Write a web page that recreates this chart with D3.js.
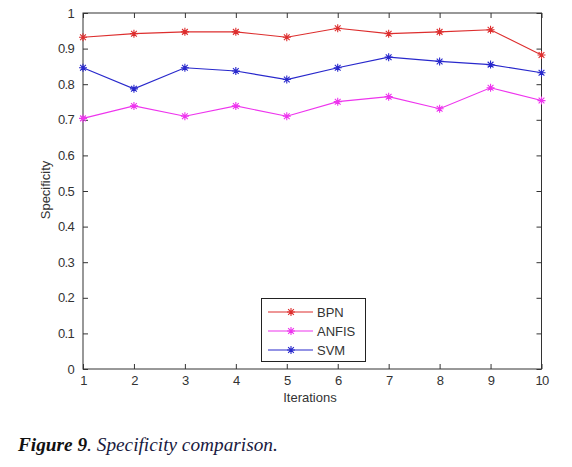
<!DOCTYPE html>
<html><head><meta charset="utf-8">
<script src="https://cdn.jsdelivr.net/npm/d3@7"></script>
<style>
html,body{margin:0;padding:0;background:#fff;}
svg{display:block;}
.tk{font-family:'Liberation Sans',Arial,Helvetica,sans-serif;font-size:13px;fill:#333;}
.num{letter-spacing:-0.7px;}
</style></head>
<body>
<svg id="c" width="572" height="467"></svg>
<script>
const iterations = [1,2,3,4,5,6,7,8,9,10];
const bpn   = [0.932,0.942,0.947,0.947,0.932,0.957,0.942,0.947,0.953,0.882];
const anfis = [0.704,0.739,0.710,0.739,0.710,0.751,0.765,0.731,0.790,0.754];
const svm   = [0.846,0.787,0.846,0.837,0.813,0.846,0.876,0.864,0.855,0.832];
const seriesNames = ["BPN","ANFIS","SVM"];
const seriesColors = ["#dd2e2e","#ee34ee","#2828cc"];
const yTicks = [0,0.1,0.2,0.3,0.4,0.5,0.6,0.7,0.8,0.9,1];
const xTicks = [1,2,3,4,5,6,7,8,9,10];

const svg = d3.select("#c");
const L=83, R=541.5, T=13, B=369;
const x = d3.scaleLinear().domain([1,10]).range([L,R]);
const y = d3.scaleLinear().domain([0,1]).range([B,T]);

svg.append("rect").attr("x",L).attr("y",T).attr("width",R-L).attr("height",B-T)
  .attr("fill","none").attr("stroke","#333").attr("stroke-width",1);

const tickLen=5;
const gx = svg.append("g").attr("transform",`translate(0,${B})`)
  .call(d3.axisBottom(x).tickValues(xTicks).tickFormat(d3.format("d")).tickSizeInner(-tickLen).tickSizeOuter(0).tickPadding(7));
gx.select(".domain").remove();
gx.selectAll("line").attr("stroke","#333");
gx.selectAll("text").attr("class","tk num").attr("fill","#333").attr("font-size",null).attr("font-family",null);
const gxt = svg.append("g").attr("transform",`translate(0,${T})`)
  .call(d3.axisTop(x).tickValues(xTicks).tickFormat("").tickSizeInner(-tickLen).tickSizeOuter(0));
gxt.select(".domain").remove(); gxt.selectAll("line").attr("stroke","#333");
const gy = svg.append("g").attr("transform",`translate(${L},0)`)
  .call(d3.axisLeft(y).tickValues(yTicks).tickFormat(d=> d===0||d===1? String(d) : d3.format(".1f")(d)).tickSizeInner(-tickLen).tickSizeOuter(0).tickPadding(9));
gy.select(".domain").remove();
gy.selectAll("line").attr("stroke","#333");
gy.selectAll("text").attr("class","tk num").attr("fill","#333").attr("font-size",null).attr("font-family",null);
const gyr = svg.append("g").attr("transform",`translate(${R},0)`)
  .call(d3.axisRight(y).tickValues(yTicks).tickFormat("").tickSizeInner(-tickLen).tickSizeOuter(0));
gyr.select(".domain").remove(); gyr.selectAll("line").attr("stroke","#333");

svg.append("text").attr("class","tk").attr("x",310).attr("y",401.5).attr("text-anchor","middle").text("Iterations");
svg.append("text").attr("class","tk").attr("transform","translate(50,190) rotate(-90)").attr("text-anchor","middle").text("Specificity");

function star(s){
  const a=s*0.72;
  return `M${-s},0L${s},0M0,${-s}L0,${s}M${-a},${-a}L${a},${a}M${-a},${a}L${a},${-a}`;
}
const data=[bpn,anfis,svm];
const line = d3.line().x((d,i)=>x(iterations[i])).y(d=>y(d));
data.forEach((vals,k)=>{
  svg.append("path").attr("d",line(vals)).attr("fill","none").attr("stroke",seriesColors[k]).attr("stroke-width",1.1);
  svg.selectAll(null).data(vals).enter().append("path")
    .attr("transform",(d,i)=>`translate(${x(iterations[i])},${y(d)})`)
    .attr("d",star(4)).attr("stroke",seriesColors[k]).attr("stroke-width",1.1).attr("fill","none");
});

const lg = svg.append("g");
lg.append("rect").attr("x",261.5).attr("y",298.5).attr("width",104).attr("height",63)
  .attr("fill","#fff").attr("stroke","#222").attr("stroke-width",1);
const ly=[312,331,350];
seriesNames.forEach((n,k)=>{
  lg.append("line").attr("x1",268).attr("x2",313).attr("y1",ly[k]).attr("y2",ly[k]).attr("stroke",seriesColors[k]).attr("stroke-width",1.1);
  lg.append("path").attr("transform",`translate(291,${ly[k]})`).attr("d",star(4)).attr("stroke",seriesColors[k]).attr("stroke-width",1.1);
  lg.append("text").attr("class","tk").attr("x",317).attr("y",ly[k]+5).text(n);
});

const cap = svg.append("text").attr("x",18).attr("y",451)
  .attr("font-family","'Liberation Serif','Times New Roman',serif").attr("font-size",19.3).attr("font-style","italic");
cap.append("tspan").attr("font-weight","bold").attr("fill","#111").text("Figure 9");
cap.append("tspan").attr("fill","#1a1a40").text(". Specificity comparison.");
</script>
</body></html>
